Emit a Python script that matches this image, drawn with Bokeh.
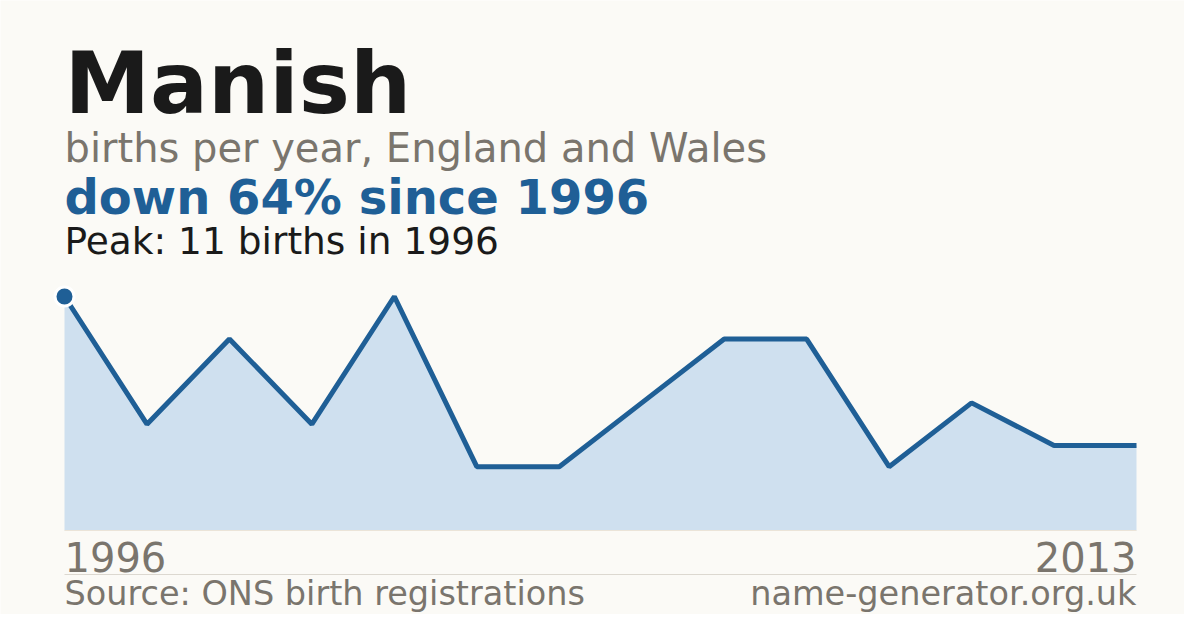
from bokeh.plotting import figure
from bokeh.models import Range1d
from bokeh.core.properties import value
from bokeh.embed import file_html
from bokeh.resources import INLINE

# ---- data ----
name = "Manish"
births = [11, 5, 9, 5, 11, 3, 3, 6, 9, 9, 3, 6, 4, 4]
first_year = "1996"
last_year = "2013"
subtitle = "births per year, England and Wales"
source = "Source: ONS birth registrations"
site = "name-generator.org.uk"

idx = list(range(len(births)))
peak = max(births)
peak_i = births.index(peak)
change = round((births[-1] - births[0]) / births[0] * 100)
headline = f"{'down' if change < 0 else 'up'} {abs(change)}% since {first_year}"
peak_text = f"Peak: {peak} births in {first_year}"

# ---- layout ----
W, H = 1184, 614
BG = "#fbfaf6"
BLUE = "#1f5f96"
GREY = "#7a756d"
DARK = "#1a1a1a"
FONT = value("DejaVu Sans")

left_px, right_px = 64, 1136
base_y, top_y = 530, 296          # pixel rows (from top) of 0 and of the peak
base_from_bottom = H - base_y
top_from_bottom = H - top_y
dx = (right_px - left_px) / (len(births) - 1)
dy = (top_from_bottom - base_from_bottom) / peak

p = figure(width=W, height=H, output_backend="svg", toolbar_location=None,
           x_range=Range1d(-left_px / dx, (W - left_px) / dx),
           y_range=Range1d(-base_from_bottom / dy, (H - base_from_bottom) / dy),
           min_border=0, x_axis_location=None, y_axis_location=None)
p.extra_x_ranges = {"px": Range1d(0, W)}
p.extra_y_ranges = {"py": Range1d(H, 0)}
p.background_fill_color = BG
p.border_fill_color = BG
p.outline_line_color = None
p.grid.visible = False

# area + line
p.varea(x=idx, y1=[0] * len(births), y2=births, fill_color="#cfe0ef")
p.segment(x0=[left_px], y0=[base_y], x1=[right_px], y1=[base_y], line_color="#ebe4d8",
          line_width=1, x_range_name="px", y_range_name="py")
p.line(x=idx, y=births, line_color=BLUE, line_width=5)
p.scatter(x=[peak_i], y=[peak], size=19, fill_color=BLUE, line_color="white", line_width=3)

# separator
p.segment(x0=[left_px], y0=[574], x1=[right_px], y1=[574], line_color="#dcd8d0",
          line_width=1, x_range_name="px", y_range_name="py")

SHIFT = 0.35  # bokeh places the alphabetic baseline ~0.35em below y


def txt(x, baseline, s, size, color, bold=False, align="left"):
    p.text(x=[x], y=[baseline - SHIFT * size], text=[s], x_range_name="px", y_range_name="py",
           text_font=FONT, text_font_size=f"{size}px", text_color=color,
           text_font_style="bold" if bold else "normal",
           text_align=align, text_baseline="alphabetic")


txt(left_px, 113, name, 86, DARK, bold=True)
txt(left_px, 161, subtitle, 40, GREY)
txt(left_px, 213, headline, 48, BLUE, bold=True)
txt(left_px, 254, peak_text, 37.5, DARK)
txt(left_px, 570, first_year, 40, GREY)
txt(right_px, 570, last_year, 40, GREY, align="right")
txt(left_px, 605, source, 33.5, GREY)
txt(right_px, 605, site, 33.5, GREY, align="right")

open("out.html", "w").write(file_html(p, INLINE))
